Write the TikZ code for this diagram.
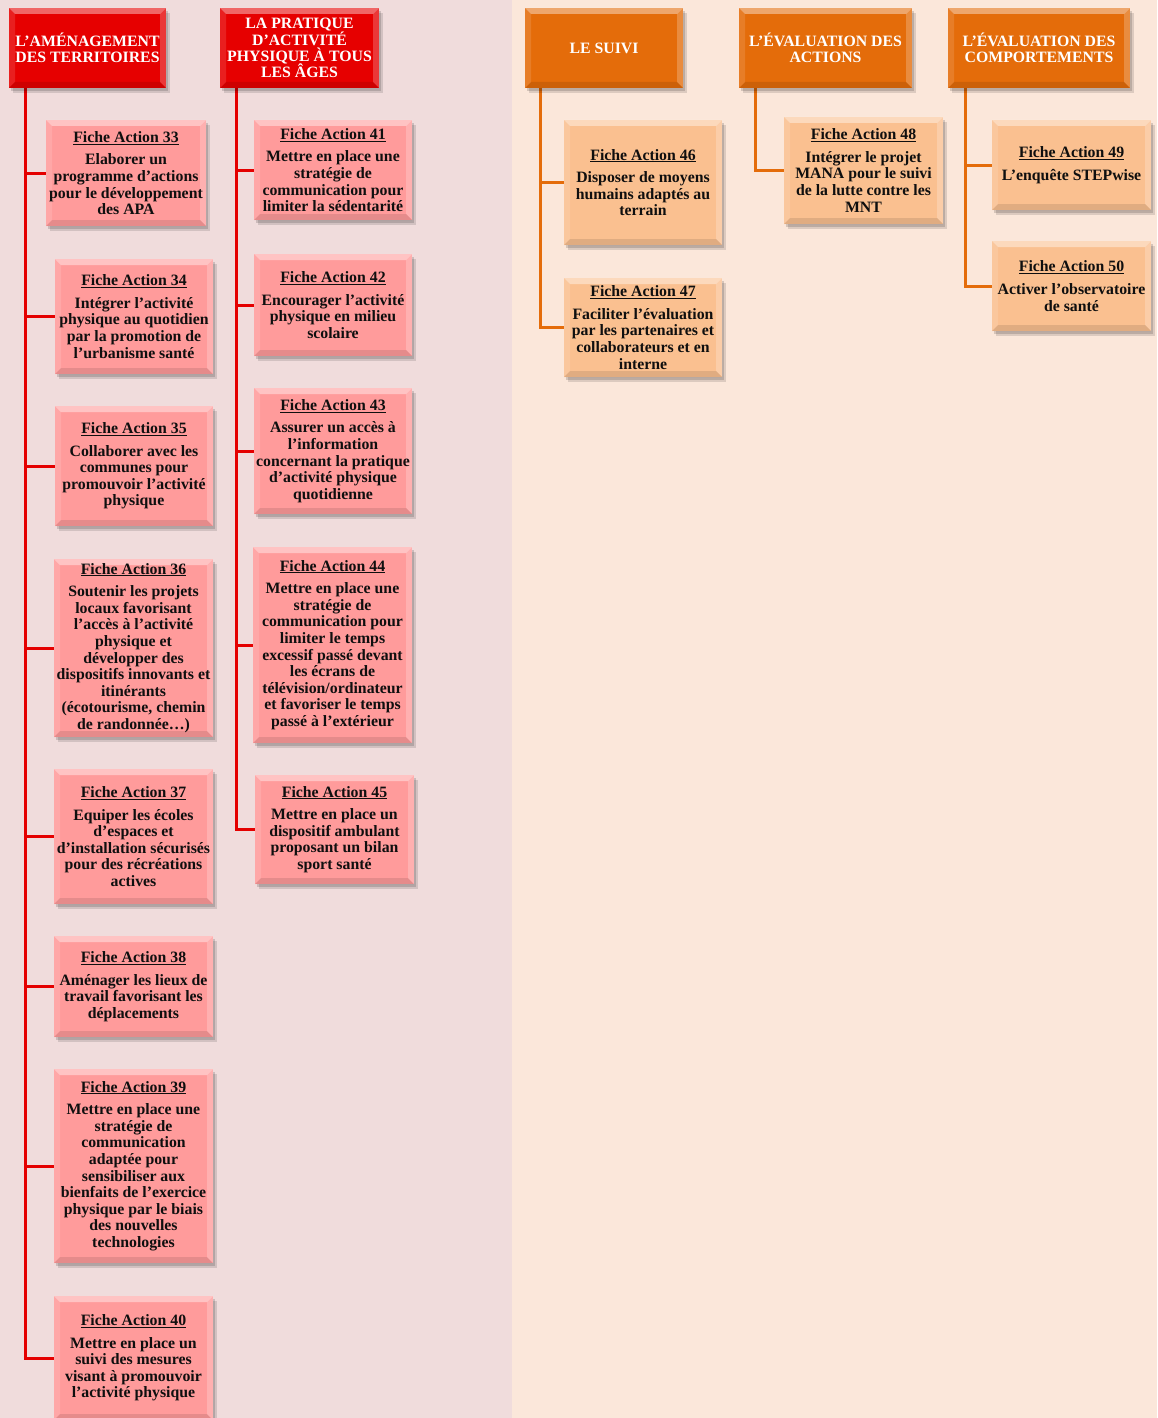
\documentclass[tikz,border=0pt]{standalone}
\usepackage{fontspec}
\setmainfont{Liberation Serif}
\usetikzlibrary{shadows}
\definecolor{bgL}{RGB}{240,220,220}
\definecolor{bgR}{RGB}{251,231,218}
\definecolor{hred}{RGB}{230,0,0}
\definecolor{cpink}{RGB}{255,155,155}
\definecolor{horange}{RGB}{228,108,10}
\definecolor{corange}{RGB}{250,192,144}
\definecolor{lred}{RGB}{228,0,0}
\definecolor{lorange}{RGB}{228,108,10}
\definecolor{txt}{RGB}{15,15,15}
\newcommand{\fa}[2]{\underline{Fiche Action #1}\\[6pt]#2}
\tikzset{
  bev/.style={path picture={
    \path (path picture bounding box.north west) coordinate (pNW)
          (path picture bounding box.north east) coordinate (pNE)
          (path picture bounding box.south west) coordinate (pSW)
          (path picture bounding box.south east) coordinate (pSE);
    \fill[white,opacity=.40] (pNW) -- (pNE) -- ([shift={(-6pt,-6pt)}]pNE) -- ([shift={(6pt,-6pt)}]pNW) -- cycle;
    \fill[white,opacity=.12] (pNW) -- ([shift={(6pt,-6pt)}]pNW) -- ([shift={(6pt,6pt)}]pSW) -- (pSW) -- cycle;
    \fill[white,opacity=.22] (pNE) -- (pSE) -- ([shift={(-6pt,6pt)}]pSE) -- ([shift={(-6pt,-6pt)}]pNE) -- cycle;
    \fill[black,opacity=.10] (pSW) -- (pSE) -- ([shift={(-6pt,6pt)}]pSE) -- ([shift={(6pt,6pt)}]pSW) -- cycle;
  }},
  box/.style={inner sep=0pt, align=center, font=\fontsize{15.8}{16.6}\selectfont\bfseries,
    drop shadow={opacity=0.12,fill=black,shadow xshift=4pt,shadow yshift=-5pt},
    drop shadow={opacity=0.15,fill=black,shadow xshift=2pt,shadow yshift=-3pt}, bev},
  redhead/.style={box, fill=hred, text=white, font=\fontsize{15.8}{16.3}\selectfont\bfseries},
  redchild/.style={box, fill=cpink, text=txt},
  orhead/.style={box, fill=horange, text=white, font=\fontsize{15.8}{16.3}\selectfont\bfseries},
  orchild/.style={box, fill=corange, text=txt},
  rline/.style={draw=lred, line width=3pt},
  oline/.style={draw=lorange, line width=3pt},
}
\begin{document}
\begin{tikzpicture}[x=1pt,y=-1pt]
\useasboundingbox (0,0) rectangle (1157,1418);
\fill[bgL] (0,0) rectangle (512,1418);
\fill[bgR] (512,0) rectangle (1157,1418);

% trunk coordinates
\coordinate (t1) at (25,80);
\coordinate (t2) at (236,80);
\coordinate (t3) at (540,80);
\coordinate (t4) at (755,80);
\coordinate (t5) at (965,80);

% children column 1
\node[redchild, minimum width=160pt, minimum height=106pt] (c33) at (126,173)
  {\fa{33}{Elaborer un\\programme d’actions\\pour le développement\\des APA}};
\node[redchild, minimum width=158pt, minimum height=115pt] (c34) at (134,316.5)
  {\fa{34}{Intégrer l’activité\\physique au quotidien\\par la promotion de\\l’urbanisme santé}};
\node[redchild, minimum width=158pt, minimum height=120pt] (c35) at (134,466)
  {\fa{35}{Collaborer avec les\\communes pour\\promouvoir l’activité\\physique}};
\node[redchild, minimum width=159pt, minimum height=178pt] (c36) at (133.5,648)
  {\fa{36}{Soutenir les projets\\locaux favorisant\\l’accès à l’activité\\physique et\\développer des\\dispositifs innovants et\\itinérants\\(écotourisme, chemin\\de randonnée…)}};
\node[redchild, minimum width=159pt, minimum height=135pt] (c37) at (133.5,836.5)
  {\fa{37}{Equiper les écoles\\d’espaces et\\d’installation sécurisés\\pour des récréations\\actives}};
\node[redchild, minimum width=159pt, minimum height=101pt] (c38) at (133.5,986.5)
  {\fa{38}{Aménager les lieux de\\travail favorisant les\\déplacements}};
\node[redchild, minimum width=159pt, minimum height=194pt] (c39) at (133.5,1166)
  {\fa{39}{Mettre en place une\\stratégie de\\communication\\adaptée pour\\sensibiliser aux\\bienfaits de l’exercice\\physique par le biais\\des nouvelles\\technologies}};
\node[redchild, minimum width=159pt, minimum height=124pt] (c40) at (133.5,1358)
  {\fa{40}{Mettre en place un\\suivi des mesures\\visant à promouvoir\\l’activité physique}};

% children column 2
\node[redchild, minimum width=158pt, minimum height=100pt] (c41) at (333,170)
  {\fa{41}{Mettre en place une\\stratégie de\\communication pour\\limiter la sédentarité}};
\node[redchild, minimum width=158pt, minimum height=102pt] (c42) at (333,305)
  {\fa{42}{Encourager l’activité\\physique en milieu\\scolaire}};
\node[redchild, minimum width=158pt, minimum height=126pt] (c43) at (333,451)
  {\fa{43}{Assurer un accès à\\l’information\\concernant la pratique\\d’activité physique\\quotidienne}};
\node[redchild, minimum width=159pt, minimum height=196pt] (c44) at (332.5,645)
  {\fa{44}{Mettre en place une\\stratégie de\\communication pour\\limiter le temps\\excessif passé devant\\les écrans de\\télévision/ordinateur\\et favoriser le temps\\passé à l’extérieur}};
\node[redchild, minimum width=159pt, minimum height=109pt] (c45) at (334.5,829.5)
  {\fa{45}{Mettre en place un\\dispositif ambulant\\proposant un bilan\\sport santé}};

% orange children
\node[orchild, minimum width=158pt, minimum height=125pt] (c46) at (643,182.5)
  {\fa{46}{Disposer de moyens\\humains adaptés au\\terrain}};
\node[orchild, minimum width=158pt, minimum height=99pt] (c47) at (643,327.5)
  {\fa{47}{Faciliter l’évaluation\\par les partenaires et\\collaborateurs et en\\interne}};
\node[orchild, minimum width=159pt, minimum height=107pt] (c48) at (863.5,170.5)
  {\fa{48}{Intégrer le projet\\MANA pour le suivi\\de la lutte contre les\\MNT}};
\node[orchild, minimum width=159pt, minimum height=90pt] (c49) at (1071.5,165)
  {\fa{49}{L’enquête STEPwise}};
\node[orchild, minimum width=159pt, minimum height=90pt] (c50) at (1071.5,286)
  {\fa{50}{Activer l’observatoire\\de santé}};

% connectors
\foreach \c in {c33,c34,c35,c36,c37,c38,c39,c40} {\draw[rline] (t1) |- (\c.west);}
\foreach \c in {c41,c42,c43,c44,c45} {\draw[rline] (t2) |- (\c.west);}
\foreach \c in {c46,c47} {\draw[oline] (t3) |- (\c.west);}
\draw[oline] (t4) |- (c48.west);
\foreach \c in {c49,c50} {\draw[oline] (t5) |- (\c.west);}

% headers
\node[redhead, minimum width=157pt, minimum height=80pt] (h1) at (87.5,48)
  {L’AMÉNAGEMENT\\DES TERRITOIRES};
\node[redhead, minimum width=159pt, minimum height=80pt] (h2) at (299.5,48)
  {LA PRATIQUE\\D’ACTIVITÉ\\PHYSIQUE À TOUS\\LES ÂGES};
\node[orhead, minimum width=158pt, minimum height=80pt] (h3) at (604,48)
  {LE SUIVI};
\node[orhead, minimum width=173pt, minimum height=80pt] (h4) at (825.5,48)
  {L’ÉVALUATION DES\\ACTIONS};
\node[orhead, minimum width=182pt, minimum height=80pt] (h5) at (1039,48)
  {L’ÉVALUATION DES\\COMPORTEMENTS};
\end{tikzpicture}
\end{document}
